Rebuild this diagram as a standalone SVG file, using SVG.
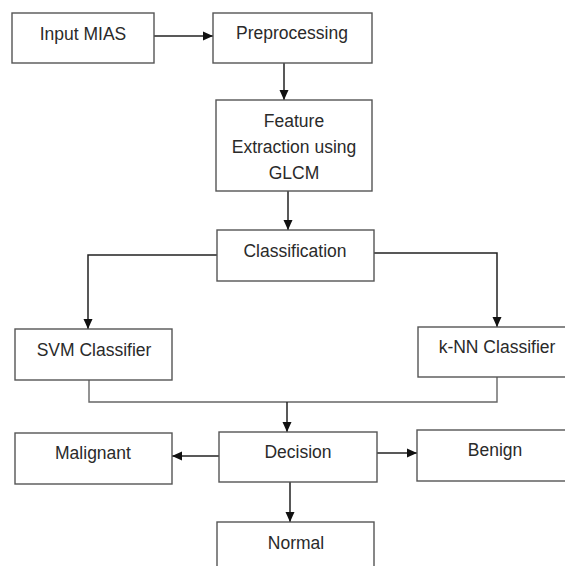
<svg xmlns="http://www.w3.org/2000/svg" width="565" height="566" viewBox="0 0 565 566">
<defs>
<marker id="ah" markerUnits="userSpaceOnUse" markerWidth="11" markerHeight="10" refX="10" refY="5" orient="auto">
<path d="M0,0.5 L10,5 L0,9.5 Z" fill="#111"/>
</marker>
<style>
.box{fill:#fff;stroke:#555;stroke-width:1.4}
.lbl{font-family:"Liberation Sans",Arial,sans-serif;font-size:17.5px;fill:#2a2a2a;text-anchor:middle}
.con{fill:none;stroke:#222;stroke-width:1.5}
.arr{marker-end:url(#ah)}
.join{fill:none;stroke:#666;stroke-width:1.4}
</style>
</defs>
<rect width="565" height="566" fill="#fff"/>
<g id="connectors">
<path class="con arr" d="M154,36 H213"/>
<path class="con arr" d="M284,63 V100"/>
<path class="con arr" d="M288,191 V230"/>
<path class="con arr" d="M217,255 H88 V329"/>
<path class="con arr" d="M374,253 H497 V327"/>
<path class="join" d="M89,380 V402 H497 V377"/>
<path class="con arr" d="M287,402 V432"/>
<path class="con arr" d="M219,456 H172"/>
<path class="con arr" d="M377,453 H417"/>
<path class="con arr" d="M290,482 V522"/>
</g>
<g id="input"><rect class="box" x="12" y="13" width="142" height="50"/><text class="lbl" x="83" y="39.5">Input MIAS</text></g>
<g id="preprocessing"><rect class="box" x="213" y="13" width="159" height="50"/><text class="lbl" x="292" y="39">Preprocessing</text></g>
<g id="feature"><rect class="box" x="216" y="100" width="156" height="91"/><text class="lbl" x="294" y="127">Feature</text><text class="lbl" x="294" y="153">Extraction using</text><text class="lbl" x="294" y="179">GLCM</text></g>
<g id="classification"><rect class="box" x="217" y="230" width="157" height="51"/><text class="lbl" x="295" y="257">Classification</text></g>
<g id="svm"><rect class="box" x="15" y="329" width="157" height="51"/><text class="lbl" x="94" y="356">SVM Classifier</text></g>
<g id="knn"><rect class="box" x="418" y="327" width="160" height="50"/><text class="lbl" x="497" y="353">k-NN Classifier</text></g>
<g id="malignant"><rect class="box" x="15" y="433" width="157" height="51"/><text class="lbl" x="93" y="459">Malignant</text></g>
<g id="decision"><rect class="box" x="219" y="432" width="158" height="50"/><text class="lbl" x="298" y="458">Decision</text></g>
<g id="benign"><rect class="box" x="417" y="430" width="160" height="51"/><text class="lbl" x="495" y="456">Benign</text></g>
<g id="normal"><rect class="box" x="217" y="522" width="157" height="60"/><text class="lbl" x="296" y="549">Normal</text></g>
</svg>
